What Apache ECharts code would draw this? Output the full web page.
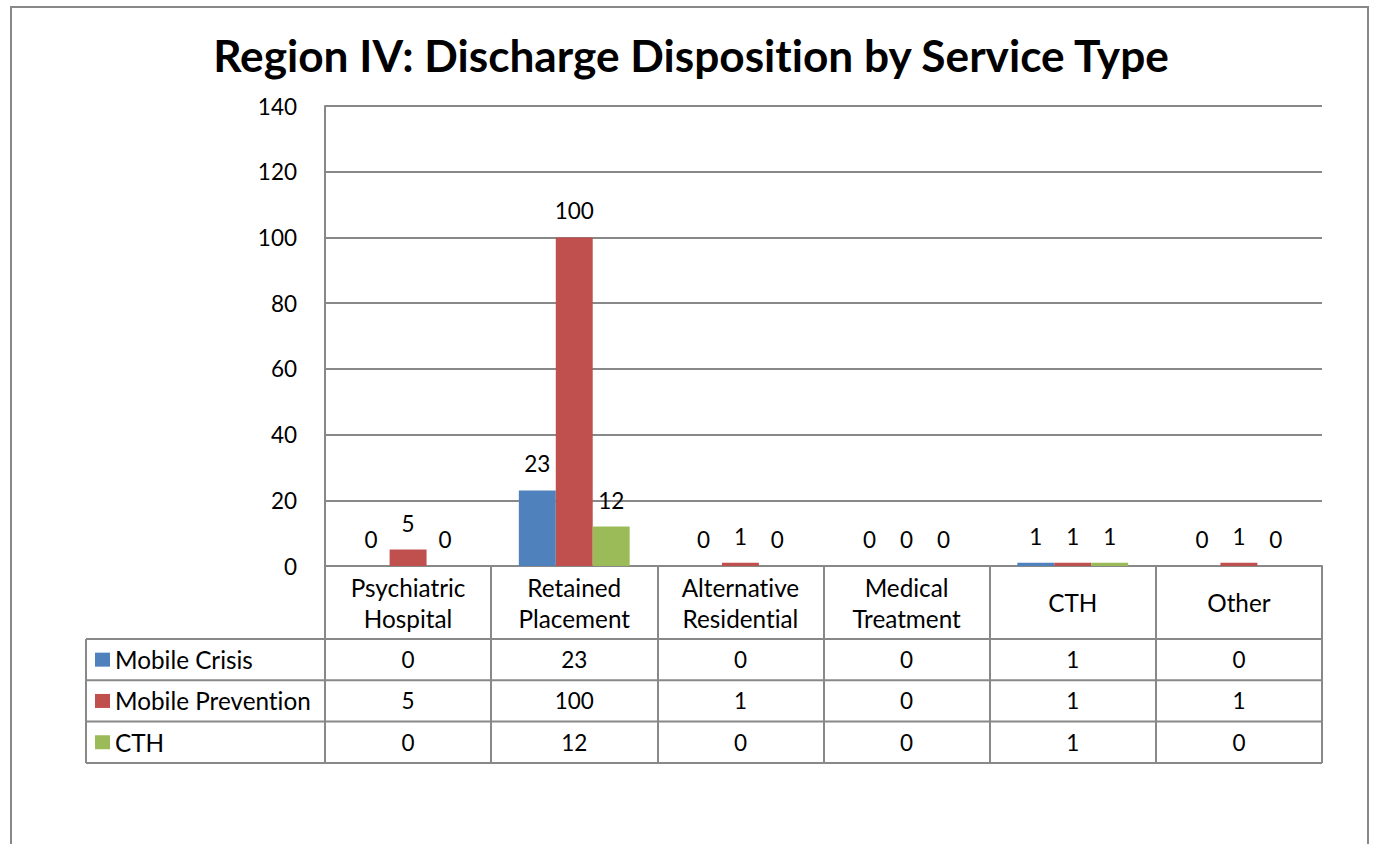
<!DOCTYPE html>
<html>
<head>
<meta charset="utf-8">
<script src="https://cdn.jsdelivr.net/npm/echarts@6/dist/echarts.min.js"></script>
<style>
  html, body { margin: 0; padding: 0; background: #fff; }
  #chart { width: 1374px; height: 844px; }
  /* Lato joins "ti"; the reference font does not */
  #chart text { font-variant-ligatures: none !important; font-feature-settings: "liga" 0, "clig" 0 !important; }
</style>
</head>
<body>
<div id="chart"></div>
<script>
// data
const categories = ['Psychiatric\nHospital', 'Retained\nPlacement', 'Alternative\nResidential', 'Medical\nTreatment', 'CTH', 'Other']
const seriesNames = ['Mobile Crisis', 'Mobile Prevention', 'CTH']
const mobileCrisis = [0, 23, 0, 0, 1, 0]
const mobilePrevention = [5, 100, 1, 0, 1, 1]
const cth = [0, 12, 0, 0, 1, 0]
const yMin = 0, yMax = 140, yStep = 20

const colors = ['#4F81BD', '#C0504D', '#9BBB59']
const seriesData = [mobileCrisis, mobilePrevention, cth]

// layout (px)
const W = 1374, H = 844
const plotLeft = 325, plotRight = 1322, plotTop = 106, plotBottom = 566
const tableLeft = 86, headH = 73, rowH = 41.3
const lineColor = '#888888'
const font = 'Lato'
const fsText = 24.3 // words
const fsNum = 22.5  // numbers

const chart = echarts.init(document.getElementById('chart'), null, { renderer: 'svg' })

// one category axis per table row, offset below the plot
const rowAxes = seriesData.map((vals, i) => ({
  type: 'category',
  gridIndex: 0,
  position: 'bottom',
  offset: headH + i * rowH,
  data: vals.map(String),
  axisLine: { show: false },
  axisTick: { show: false },
  axisLabel: {
    interval: 0, margin: rowH / 2, verticalAlign: 'middle',
    fontFamily: font, fontSize: fsNum, color: '#000'
  }
}))

// table rules
const tableBottom = plotBottom + headH + rowH * seriesNames.length
const graphics = [
  { type: 'rect', shape: { x: 11, y: 7, width: 1357, height: 900 },
    style: { fill: 'none', stroke: lineColor, lineWidth: 2 }, silent: true },
  { type: 'line', shape: { x1: tableLeft, y1: plotBottom + headH, x2: tableLeft, y2: tableBottom },
    style: { stroke: lineColor, lineWidth: 2 }, silent: true }
]
for (let i = 0; i <= seriesNames.length; i++) {
  const y = plotBottom + headH + i * rowH
  graphics.push({ type: 'line', shape: { x1: tableLeft, y1: y, x2: plotRight, y2: y },
    style: { stroke: lineColor, lineWidth: 2 }, silent: true })
}

const option = {
  animation: false,
  title: {
    text: 'Region IV: Discharge Disposition by Service Type',
    left: 691, top: 32, padding: 0, textAlign: 'center',
    textStyle: { fontFamily: font, fontWeight: 'bold', fontSize: 44.2, color: '#000' }
  },
  legend: {
    orient: 'vertical', left: 95, top: plotBottom + headH + (rowH - 24) / 2,
    padding: 0, itemGap: rowH - 24, itemWidth: 15, itemHeight: 14,
    icon: 'rect', selectedMode: false,
    textStyle: { fontFamily: font, fontSize: fsText, color: '#000', lineHeight: 24 },
    data: seriesNames
  },
  grid: { left: plotLeft, right: W - plotRight, top: plotTop, bottom: H - plotBottom, containLabel: false },
  xAxis: [{
    type: 'category',
    data: categories,
    position: 'bottom',
    axisLine: { show: true, lineStyle: { color: lineColor, width: 2 } },
    axisTick: { show: true, interval: 0, length: tableBottom - plotBottom, lineStyle: { color: lineColor, width: 2 } },
    axisLabel: {
      interval: 0, margin: headH / 2, verticalAlign: 'middle', lineHeight: 31,
      fontFamily: font, fontSize: fsText, color: '#000'
    }
  }].concat(rowAxes),
  yAxis: {
    type: 'value', min: yMin, max: yMax, interval: yStep,
    axisLine: { show: true, lineStyle: { color: lineColor, width: 2 } },
    axisTick: { show: false },
    splitLine: { lineStyle: { color: lineColor, width: 2 } },
    axisLabel: { margin: 28, fontFamily: font, fontSize: fsNum, color: '#000' }
  },
  series: seriesNames.map((name, i) => ({
    name,
    type: 'bar',
    data: seriesData[i],
    barGap: 0,
    barCategoryGap: '33.3%',
    itemStyle: { color: colors[i] },
    label: { show: true, position: 'top', distance: 15, fontFamily: font, fontSize: fsNum, color: '#000' }
  })),
  graphic: graphics
}

chart.setOption(option)
</script>
</body>
</html>
